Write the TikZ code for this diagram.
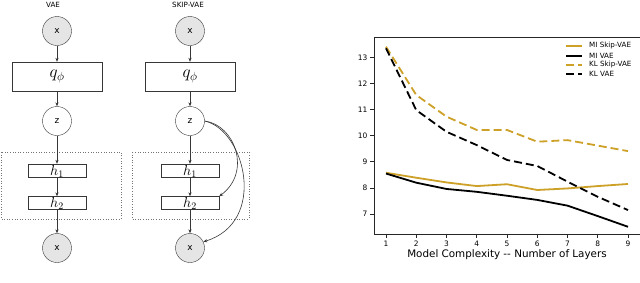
\documentclass[tikz,border=0pt]{standalone}
\usepackage{fontspec}
\setsansfont{DejaVu Sans}
\usepackage{amsmath,amssymb}
\usepackage{xcolor}
\usetikzlibrary{arrows.meta,positioning}
\definecolor{skipgold}{RGB}{205,160,40}
\definecolor{edgegray}{RGB}{55,55,55}

\begin{document}
\begin{tikzpicture}[
  x=1bp,
  y=-1bp,
  arr/.style={-{Stealth[length=4bp,width=3.2bp]}, draw=edgegray, line width=0.6bp},
  obs/.style={circle, draw=edgegray, fill=black!10, minimum size=29bp, inner sep=0pt, font=\sffamily\small},
  lat/.style={obs, fill=white},
  enc/.style={draw=edgegray, minimum width=90bp, minimum height=29bp, inner sep=0pt, font=\LARGE},
  layer/.style={draw=edgegray, minimum width=58bp, inner sep=0pt, text height=11bp, text depth=2bp, font=\Large},
  grp/.style={draw=black!55, line width=0.7bp, dash pattern=on 1bp off 1.6bp},
  title/.style={font=\sffamily\fontsize{7.2}{8}\selectfont},
  axisline/.style={draw=black!85, line width=0.8bp},
  ticklab/.style={font=\sffamily\fontsize{7.5}{9}\selectfont, inner sep=0pt},
  legtext/.style={font=\sffamily\fontsize{7.2}{8}\selectfont, anchor=west, inner sep=0pt},
  miline/.style={line width=1.8bp, line join=round},
  klline/.style={line width=1.8bp, line join=round, dash pattern=on 8bp off 4bp}
]
\useasboundingbox (0,0) rectangle (640,282);

\node[title] (tvae) at (53,5) {VAE};
\node[obs] (x1) at (57,31) {x};
\node[enc] (q1) at (57,76.5) {$q_\phi$};
\node[lat] (z1) at (57,121) {z};
\node[layer] (h11) at (57,170.5) {$h_1$};
\node[layer] (h21) at (57,203) {$h_2$};
\node[obs] (y1) at (57,248) {x};
\draw[grp] (1,152) rectangle (121,219);
\draw[arr] (x1) -- (q1);
\draw[arr] (q1) -- (z1);
\draw[arr] (z1) -- (h11);
\draw[arr] (h11) -- (h21);
\draw[arr] (h21) -- (y1);

\node[title] (tskip) at (188,5) {SKIP-VAE};
\node[obs] (x2) at (190,31) {x};
\node[enc] (q2) at (190,76.5) {$q_\phi$};
\node[lat] (z2) at (190,121) {z};
\node[layer] (h12) at (190,170.5) {$h_1$};
\node[layer] (h22) at (190,203) {$h_2$};
\node[obs] (y2) at (190,248) {x};
\draw[grp] (132,152) rectangle (249,219);
\draw[arr] (x2) -- (q2);
\draw[arr] (q2) -- (z2);
\draw[arr] (z2) -- (h12);
\draw[arr] (h12) -- (h22);
\draw[arr] (h22) -- (y2);
\draw[arr] (z2.east) .. controls (235,125) and (252,172) .. (h22.north east);
\draw[arr] (z2.east) .. controls (245,130) and (268,222) .. (y2.25);

\begin{scope}[shift={(355.75,396.7)}, x=30.25bp, y=26.1bp]
\draw[axisline] (9.397,13.78) -- (0.603,13.78) -- (0.603,6.2) -- (9.397,6.2);
\foreach \k in {1,...,9} {
  \draw[axisline] (\k,6.2) -- ++(0bp,-3.5bp);
  \node[ticklab, anchor=north] (xt\k) at ([yshift=-5.5bp]\k,6.2) {\k};
}
\foreach \v in {7,...,13} {
  \draw[axisline] (0.603,\v) -- ++(-3.5bp,0bp);
  \node[ticklab, anchor=east] (yt\v) at ([xshift=-6.5bp]0.603,\v) {\v};
}
\draw[miline, skipgold] plot coordinates {(1,8.58) (2,8.39) (3,8.21) (4,8.07) (5,8.14) (6,7.92) (7,7.98) (8,8.07) (9,8.15)};
\draw[miline, black] plot coordinates {(1,8.55) (2,8.2) (3,7.96) (4,7.85) (5,7.7) (6,7.54) (7,7.32) (8,6.92) (9,6.51)};
\draw[klline, skipgold] plot coordinates {(1,13.41) (2,11.56) (3,10.73) (4,10.22) (5,10.22) (6,9.77) (7,9.83) (8,9.62) (9,9.41)};
\draw[klline, black] plot coordinates {(1,13.35) (2,10.98) (3,10.15) (4,9.64) (5,9.07) (6,8.84) (7,8.24) (8,7.66) (9,7.15)};
\end{scope}

\node[font=\sffamily\fontsize{10.4}{12}\selectfont] (xlab) at (507,255) {Model Complexity -{}- Number of Layers};

\coordinate (lg1a) at (566,46);
\coordinate (lg1b) at (582,46);
\coordinate (lg2a) at (566,56);
\coordinate (lg2b) at (582,56);
\coordinate (lg3a) at (566,65);
\coordinate (lg3b) at (582,65);
\coordinate (lg4a) at (566,74);
\coordinate (lg4b) at (582,74);
\draw[miline, skipgold] (lg1a) -- (lg1b);
\draw[miline, black] (lg2a) -- (lg2b);
\draw[klline, skipgold] (lg3a) -- (lg3b);
\draw[klline, black] (lg4a) -- (lg4b);
\node[legtext] (lg1) at (589,46) {MI Skip-VAE};
\node[legtext] (lg2) at (589,56) {MI VAE};
\node[legtext] (lg3) at (589,65) {KL Skip-VAE};
\node[legtext] (lg4) at (589,74) {KL VAE};
\end{tikzpicture}
\end{document}
